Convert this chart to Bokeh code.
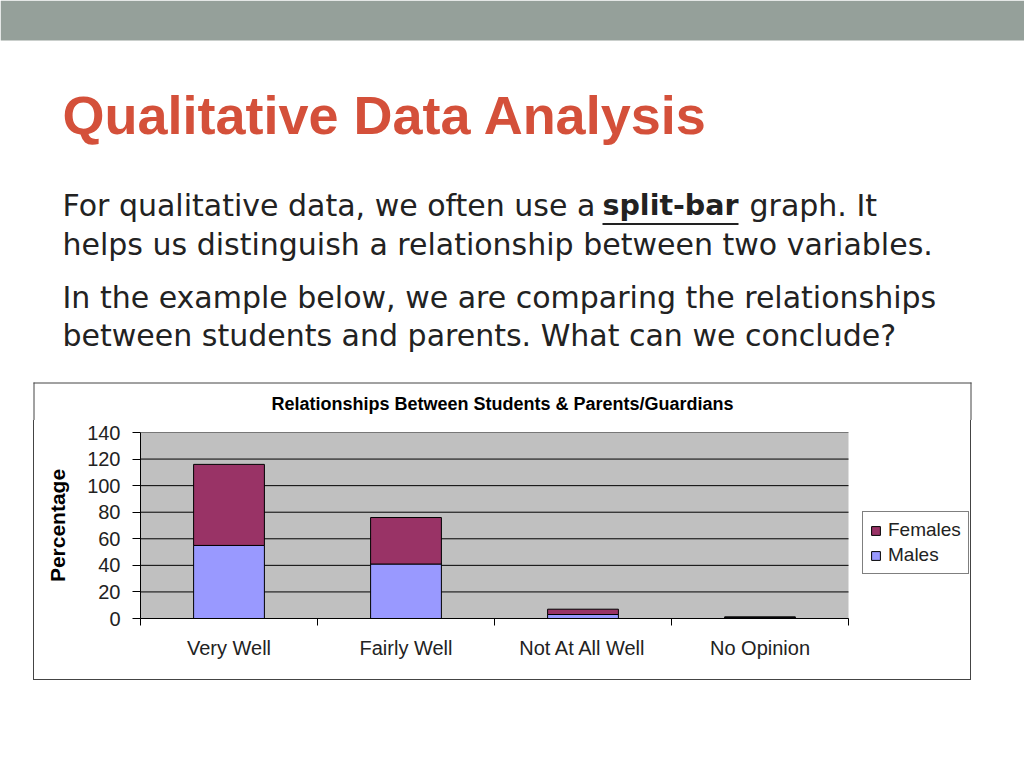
from bokeh.plotting import figure
from bokeh.layouts import column, row
from bokeh.models import (Range1d, LinearAxis, FixedTicker, Legend, LegendItem,
                          ColumnDataSource, Spacer)
from bokeh.core.properties import value
from bokeh.embed import file_html
from bokeh.resources import INLINE

# ---------------- data ----------------
categories = ["Very Well", "Fairly Well", "Not At All Well", "No Opinion"]
males = [55, 41, 3, 1]
females = [61, 35, 4, 0]
y_ticks = [0, 20, 40, 60, 80, 100, 120, 140]
y_max = 140
series = ["Males", "Females"]
series_colors = ["#9999FF", "#993366"]

slide_title = "Qualitative Data Analysis"
line1_parts = ["For qualitative data, we often use a", "split-bar", "graph. It"]
other_lines = ["helps us distinguish a relationship between two variables.",
               "In the example below, we are comparing the relationships",
               "between students and parents. What can we conclude?"]
chart_title = "Relationships Between Students & Parents/Guardians"
y_label = "Percentage"

BOX_L, BOX_R, BOX_T = 33, 971, 382     # chart box (page px)
BOX_COLOR = "#444444"

# ---------------- slide (top part, includes chart title) ----------------
TOP_H = 420
top = figure(width=1024, height=TOP_H, x_range=Range1d(0, 1024), y_range=Range1d(TOP_H, 0),
             min_border=0, output_backend="svg", toolbar_location=None,
             x_axis_location=None, y_axis_location=None, outline_line_color=None,
             background_fill_color="white", border_fill_color="white")
for g in list(top.xgrid) + list(top.ygrid):
    g.visible = False

top.quad(left=0, right=1024, top=0, bottom=40, fill_color="#95A09A", line_color=None)

top.text(x=[62], y=[114], text=[slide_title], text_font=value("Liberation Sans"),
         text_font_style="bold", text_font_size="54px", text_color="#D4503A",
         text_baseline="alphabetic")

body_font = value("DejaVu Sans")
body_size = "30px"
body_color = "#222222"
top.text(x=[62, 749], y=[205, 205], text=[line1_parts[0], line1_parts[2]], text_font=body_font,
         text_font_size=body_size, text_color=body_color, text_baseline="alphabetic")
top.text(x=[602], y=[205], text=[line1_parts[1]], text_font=body_font, text_font_style="bold",
         text_font_size="28.5px", text_color=body_color, text_baseline="alphabetic")
top.quad(left=602, right=738, top=222.5, bottom=224.5, fill_color=body_color, line_color=None)
top.text(x=[62] * len(other_lines), y=[244, 297, 335], text=other_lines, text_font=body_font,
         text_font_size=body_size, text_color=body_color, text_baseline="alphabetic")

# upper part of the chart box
top.segment(x0=[BOX_L, BOX_L + 0.5, BOX_R - 0.5], x1=[BOX_R, BOX_L + 0.5, BOX_R - 0.5],
            y0=[BOX_T + 0.5, BOX_T, BOX_T], y1=[BOX_T + 0.5, TOP_H, TOP_H],
            line_color=BOX_COLOR, line_width=1)
# chart title
top.text(x=[502], y=[403], text=[chart_title], text_font=value("Liberation Sans"),
         text_font_style="bold", text_font_size="18px", text_color="black",
         text_align="center", text_baseline="alphabetic")

# ---------------- chart ----------------
n = len(categories)
centers = [i + 0.5 for i in range(n)]

CW, CH = BOX_R - BOX_L, 260
B_L, B_R, B_T, B_B = 106, 2, 12, 62
FRAME_W = CW - B_L - B_R     # frame spans plot area + legend area
PLOT_W = 708                 # pixel width of the gray plot area
x_end = n * FRAME_W / PLOT_W

p = figure(x_range=Range1d(0, x_end), y_range=Range1d(0, y_max),
           width=CW, height=CH, sizing_mode="fixed",
           min_border_left=B_L, min_border_right=B_R, min_border_top=B_T, min_border_bottom=B_B,
           output_backend="svg", toolbar_location=None,
           x_axis_location=None, y_axis_location="left",
           background_fill_color="white", border_fill_color="white",
           outline_line_color=None,
           styles={"border": "1px solid " + BOX_COLOR, "border-top": "none"})

# gray plot area and horizontal grid lines limited to the category span
p.quad(left=0, right=n, bottom=0, top=y_max, fill_color="#C0C0C0", line_color=None,
       level="image")
p.segment(x0=[0] * len(y_ticks), x1=[n] * len(y_ticks), y0=y_ticks, y1=y_ticks,
          line_color="black", line_width=1, level="underlay")

src = ColumnDataSource(dict(x=centers, cat=categories, Males=males, Females=females))
rs = p.vbar_stack(series, x="x", width=0.4, fill_color=series_colors,
                  line_color="black", line_width=1, source=src)

yax = p.yaxis[0]
yax.ticker = FixedTicker(ticks=y_ticks)
yax.bounds = (0, y_max)
yax.major_tick_out = 8
yax.major_tick_in = 0
yax.minor_tick_line_color = None
yax.axis_line_color = "black"
yax.major_tick_line_color = "black"
yax.major_label_text_font = "Liberation Sans"
yax.major_label_text_font_size = "20px"
yax.major_label_text_color = "#222222"
yax.major_label_standoff = 12
yax.axis_label = y_label
yax.axis_label_text_font = "Liberation Sans"
yax.axis_label_text_font_style = "bold"
yax.axis_label_text_font_size = "21px"
yax.axis_label_text_color = "black"
yax.axis_label_standoff = 15

for g in list(p.xgrid) + list(p.ygrid):
    g.visible = False

tick_pos = list(range(n + 1))
ax_t = LinearAxis(ticker=FixedTicker(ticks=tick_pos), bounds=(0, n),
                  major_tick_out=7, major_tick_in=0, minor_tick_line_color=None,
                  major_label_text_font_size="0px", major_label_standoff=0,
                  major_label_overrides={t: "" for t in tick_pos},
                  axis_line_color="black", major_tick_line_color="black")
p.add_layout(ax_t, "below")
ax_c = LinearAxis(ticker=FixedTicker(ticks=centers), bounds=(0, n),
                  major_label_overrides={c: cat for c, cat in zip(centers, categories)},
                  major_tick_line_color=None, minor_tick_line_color=None,
                  axis_line_color=None, major_tick_out=0, major_tick_in=0,
                  major_label_standoff=11,
                  major_label_text_font="Liberation Sans",
                  major_label_text_font_size="20px",
                  major_label_text_color="#222222")
p.add_layout(ax_c, "below")

legend = Legend(items=[LegendItem(label=series[1], renderers=[rs[1]]),
                       LegendItem(label=series[0], renderers=[rs[0]])],
                location=(722, 44), orientation="vertical",
                border_line_color="black", border_line_width=1,
                background_fill_color="white", background_fill_alpha=1,
                padding=7, spacing=3, margin=0,
                label_text_font="Liberation Sans", label_text_font_size="19px",
                label_text_color="#222222", glyph_width=11, glyph_height=11,
                label_standoff=7, label_height=21)
p.add_layout(legend)

layout = column(top, row(Spacer(width=BOX_L, height=CH), p, spacing=0), spacing=0)

open("out.html", "w").write(file_html(layout, INLINE))
